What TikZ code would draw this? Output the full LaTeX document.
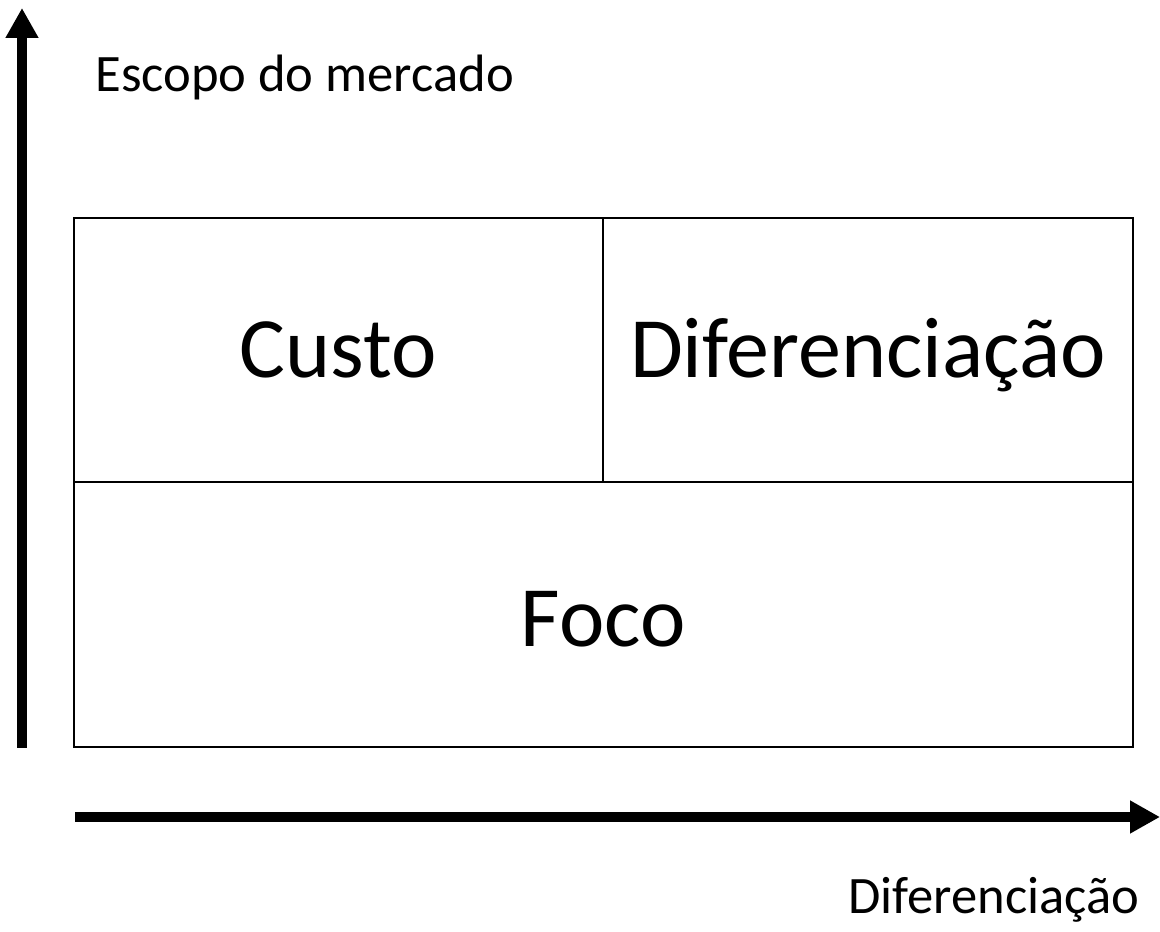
\documentclass[tikz,border=0pt]{standalone}
\usepackage{fontspec}
\setmainfont{Carlito}
\usetikzlibrary{arrows.meta}

\begin{document}
\begin{tikzpicture}[x=0.5pt,y=0.5pt,
    >={Triangle[width=15.5pt,length=15pt]},
    axis/.style={line width=5pt},
    cell/.style={draw,line width=1pt,inner sep=0pt,font=\fontsize{43pt}{51pt}\selectfont,text height=28pt,text depth=0pt},
    label/.style={inner sep=0pt,font=\fontsize{26.3pt}{31pt}\selectfont}]
  \useasboundingbox (0,0) rectangle (1160,931);
  \coordinate (YB) at (22,183);
  \coordinate (YT) at (22,923);
  \coordinate (XL) at (75,114);
  \coordinate (XR) at (1160,114);
  \node[cell,minimum width=264.75pt,minimum height=132pt] (custo) at (338.25,581) {Custo};
  \node[cell,minimum width=265pt,minimum height=132pt] (dif) at (868,581) {Diferenciação};
  \node[cell,minimum width=529.75pt,minimum height=132.5pt,text height=32.5pt] (foco) at (603.25,316.5) {Foco};
  \draw[axis,->] (YB) -- (YT);
  \draw[axis,->] (XL) -- (XR);
  \node[label,anchor=base west] (escopo) at (95,839) {Escopo do mercado};
  \node[label,anchor=base east] (difx) at (1140,18) {Diferenciação};
\end{tikzpicture}
\end{document}
